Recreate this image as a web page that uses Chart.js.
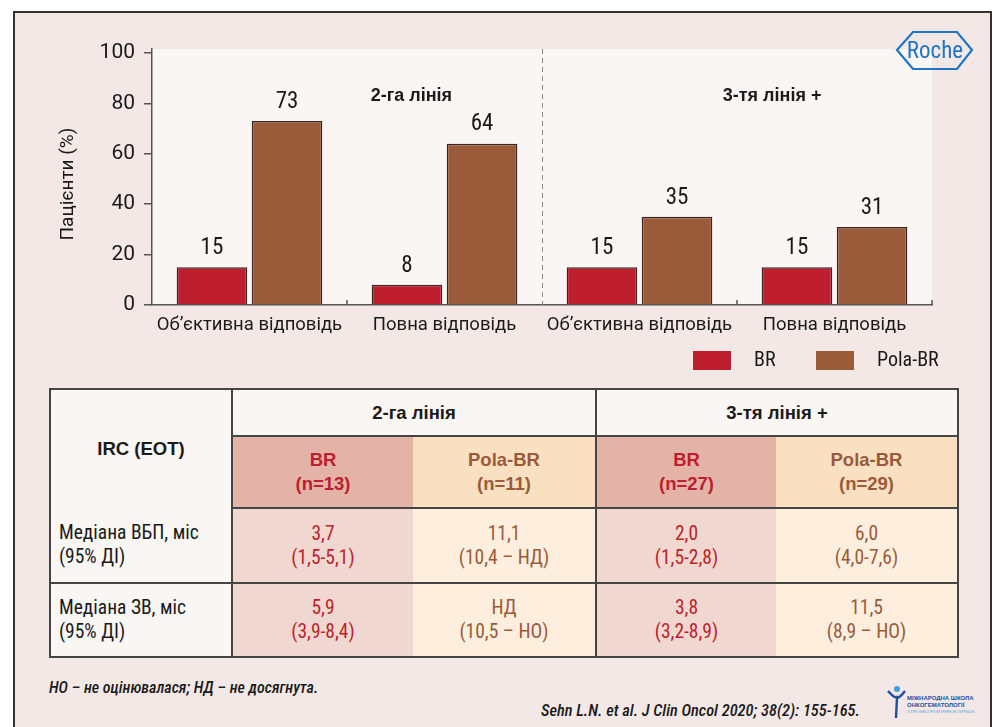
<!DOCTYPE html>
<html>
<head>
<meta charset="utf-8">
<script src="https://cdn.jsdelivr.net/npm/chart.js@4.4.1/dist/chart.umd.min.js"></script>
<style>
  body { margin: 0; width: 999px; height: 727px; overflow: hidden; position: relative; background: #fff;
         font-family: Roboto, sans-serif; font-stretch: condensed; }
  #frame { position: absolute; left: 13px; top: 11px; width: 979px; height: 740px; box-sizing: border-box;
           border: 2px solid #333; background: #f3e8e6; }
  #chartBox { position: absolute; left: 14px; top: 12px; width: 977px; height: 375px; }
  #roche { position: absolute; left: 895px; top: 30px; }
  #tbl { position: absolute; left: 49px; top: 388px; width: 908px; height: 268px; border-collapse: collapse;
         table-layout: fixed; border: 2px solid #444; color: #1a1a1a; }
  #tbl td, #tbl th { padding: 0; text-align: center; vertical-align: middle; font-size: 19.5px; line-height: 24px; }
  #tbl th { font-family: "Liberation Sans", Arial, sans-serif; font-stretch: normal; font-weight: bold; font-size: 18.5px; line-height: 24px; }
  .light { background: #faf6f3; }
  .hBR { background: #e3b3a7; color: #be1e2d; }
  .hPola { background: #f9e0c0; color: #9a5b3b; }
  .dBR { background: #f0d7d0; color: #be1e2d; }
  .dPola { background: #fdeede; color: #9a5b3b; }
  .rowLabel { text-align: left !important; padding-left: 8px !important; }
  .note { position: absolute; font-style: italic; font-weight: 500; color: #1a1a1a; white-space: nowrap; }
  #mark { position: absolute; left: 885px; top: 685px; }
</style>
</head>
<body>
<div id="frame"></div>
<div id="chartBox"><canvas id="respChart" width="977" height="375"></canvas></div>
<svg id="roche" width="80" height="44" viewBox="0 0 80 44">
  <polygon points="2,20 18,2 62,2 77,20 62,39 18,39" fill="none" stroke="#1f74c4" stroke-width="2.2"/>
  <text x="40" y="28" text-anchor="middle" font-family="Roboto, sans-serif" font-stretch="condensed"
        font-size="23" fill="#1f74c4">Roche</text>
</svg>
<table id="tbl"></table>
<div class="note" style="left:49px; top:678px; font-size:16px;">НО – не оцінювалася; НД – не досягнута.</div>
<div class="note" style="right:139px; top:701px; font-size:16.4px;">Sehn L.N. et al. J Clin Oncol 2020; 38(2): 155-165.</div>
<svg id="mark" width="90" height="36" viewBox="0 0 90 36">
  <circle cx="12" cy="4" r="3" fill="#3aa3e0"/>
  <path d="M3,6 Q10,14 12,12 Q14,14 20,6 M12,12 L11,33" stroke="#1f4ea3" stroke-width="2.4" fill="none"/>
  <text x="22" y="15" font-family="Liberation Sans, sans-serif" font-size="6" font-weight="bold" fill="#1f4ea3">МІЖНАРОДНА ШКОЛА</text>
  <text x="22" y="22" font-family="Liberation Sans, sans-serif" font-size="6" font-weight="bold" fill="#1f4ea3">ОНКОГЕМАТОЛОГІЇ</text>
  <text x="22" y="28" font-family="Liberation Sans, sans-serif" font-size="4" fill="#3aa3e0">З ПРОФЕСОРОМ ІРИНОЮ КРЯЧОК</text>
</svg>
<script>
// chart data
const categories = ["Об’єктивна відповідь", "Повна відповідь", "Об’єктивна відповідь", "Повна відповідь"];
const seriesNames = ["BR", "Pola-BR"];
const brValues = [15, 8, 15, 15];
const polaValues = [73, 64, 35, 31];
const yTicks = [0, 20, 40, 60, 80, 100];
const panelTitles = ["2-га лінія", "3-тя лінія +"];

// table data
const tableGroups = ["2-га лінія", "3-тя лінія +"];
const tableArms = ["BR", "Pola-BR", "BR", "Pola-BR"];
const tableN = ["(n=13)", "(n=11)", "(n=27)", "(n=29)"];
const rowLabels = [["Медіана ВБП, міс", "(95% ДІ)"], ["Медіана ЗВ, міс", "(95% ДІ)"]];
const pfsMedian = ["3,7", "11,1", "2,0", "6,0"];
const pfsCI = ["(1,5-5,1)", "(10,4 – НД)", "(1,5-2,8)", "(4,0-7,6)"];
const osMedian = ["5,9", "НД", "3,8", "11,5"];
const osCI = ["(3,9-8,4)", "(10,5 – НО)", "(3,2-8,9)", "(8,9 – НО)"];

const brColor = "#be1e2d";
const polaColor = "#9a5b3b";
const cond = "condensed";

// ---- table ----
function buildTable() {
    const B = "2px solid #444";
    let html = '<colgroup><col style="width:182px"><col style="width:181px"><col style="width:183px"><col style="width:180px"><col style="width:182px"></colgroup>';
    html += '<tr style="height:47px"><th rowspan="2" class="light" style="border-right:' + B + '">IRC (EOT)</th>';
    tableGroups.forEach((g, i) => {
        html += '<th colspan="2" class="light" style="border-bottom:' + B + (i === 0 ? ';border-right:' + B : '') + '">' + g + '</th>';
    });
    html += '</tr><tr style="height:72px">';
    tableArms.forEach((arm, i) => {
        const cls = arm === "BR" ? "hBR" : "hPola";
        html += '<th class="' + cls + '" style="border-bottom:' + B + (i === 1 ? ';border-right:' + B : '') + '">' + arm + '<br>' + tableN[i] + '</th>';
    });
    html += '</tr>';
    const rows = [[pfsMedian, pfsCI], [osMedian, osCI]];
    rows.forEach((r, ri) => {
        html += '<tr style="height:' + (ri === 0 ? 75 : 74) + 'px' + '">';
        html += '<td class="light rowLabel" style="border-right:' + B + (ri === 0 ? ';border-bottom:' + B : '') + '">' + rowLabels[ri][0] + '<br>' + rowLabels[ri][1] + '</td>';
        tableArms.forEach((arm, i) => {
            const cls = arm === "BR" ? "dBR" : "dPola";
            html += '<td class="' + cls + '" style="' + (ri === 0 ? 'border-bottom:' + B + ';' : '') + (i === 1 ? 'border-right:' + B : '') + '">' + r[0][i] + '<br>' + r[1][i] + '</td>';
        });
        html += '</tr>';
    });
    document.getElementById("tbl").innerHTML = html;
}
buildTable();

// ---- chart decorations ----
const decorPlugin = {
    id: "decor",
    beforeDraw(chart) {
        const { ctx, chartArea } = chart;
        ctx.save();
        ctx.fillStyle = "#faf6f4";
        ctx.fillRect(chartArea.left, chartArea.top, chartArea.right - chartArea.left, chartArea.bottom - chartArea.top);
        ctx.restore();
    },
    afterDatasetsDraw(chart) {
        const { ctx, chartArea, scales } = chart;
        const x = scales.x, y = scales.y;
        ctx.save();

        // dashed separator between panels
        const sepX = Math.round(x.getPixelForValue(1.5)) + 0.5;
        ctx.strokeStyle = "#8a8a8a";
        ctx.lineWidth = 1;
        ctx.setLineDash([5, 4]);
        ctx.beginPath();
        ctx.moveTo(sepX, chartArea.top);
        ctx.lineTo(sepX, chartArea.bottom);
        ctx.stroke();
        ctx.setLineDash([]);

        // small inward ticks at category boundaries
        ctx.strokeStyle = "#555";
        ctx.lineWidth = 1.5;
        [0.5, 2.5, 3.5].forEach(v => {
            const px = x.getPixelForValue(v);
            ctx.beginPath();
            ctx.moveTo(px, chartArea.bottom);
            ctx.lineTo(px, chartArea.bottom - 5);
            ctx.stroke();
        });

        // value labels
        ctx.fillStyle = "#1a1a1a";
        ctx.font = cond + " 23px Roboto, sans-serif";
        ctx.textAlign = "center";
        ctx.textBaseline = "middle";
        chart.data.datasets.forEach((ds, di) => {
            chart.getDatasetMeta(di).data.forEach((bar, i) => {
                ctx.fillText(String(ds.data[i]), bar.x, bar.y - 19);
            });
        });

        // panel titles
        ctx.font = "bold 18px 'Liberation Sans', Arial, sans-serif";
        const titlePos = [0.83, 2.68];
        panelTitles.forEach((t, i) => {
            ctx.fillText(t, x.getPixelForValue(titlePos[i]), y.getPixelForValue(83));
        });

        // legend
        const lx = [chartArea.right - 239, chartArea.right - 116];
        const ly = chartArea.bottom + 46;
        ctx.font = cond + " 20px Roboto, sans-serif";
        ctx.textAlign = "left";
        chart.data.datasets.forEach((ds, i) => {
            ctx.fillStyle = ds.backgroundColor;
            ctx.fillRect(lx[i], ly, 38, 19);
            ctx.fillStyle = "#1a1a1a";
            ctx.fillText(ds.label, lx[i] + 61, ly + 10);
        });
        ctx.restore();
    }
};

const ctx = document.getElementById("respChart").getContext("2d");
new Chart(ctx, {
    type: "bar",
    data: {
        labels: categories,
        datasets: [{
            label: seriesNames[0],
            data: brValues,
            backgroundColor: brColor,
            borderColor: "#3a2424",
            borderWidth: 1.5,
            categoryPercentage: 0.77,
            barPercentage: 0.94
        }, {
            label: seriesNames[1],
            data: polaValues,
            backgroundColor: polaColor,
            borderColor: "#3a2424",
            borderWidth: 1.5,
            categoryPercentage: 0.77,
            barPercentage: 0.94
        }]
    },
    options: {
        responsive: false,
        animation: false,
        devicePixelRatio: 1,
        layout: { padding: { left: 39, top: 37, right: 59, bottom: 42 } },
        plugins: {
            legend: { display: false },
            tooltip: { enabled: false }
        },
        scales: {
            x: {
                grid: { display: false, drawTicks: false },
                border: { color: "#555", width: 1.5 },
                ticks: { color: "#1a1a1a", font: { family: "Roboto, sans-serif", style: cond, size: 18.5 },
                         padding: 9, autoSkip: false, maxRotation: 0, minRotation: 0 },
                afterFit: s => { s.height = 40; }
            },
            y: {
                min: 0,
                max: 101.6,
                afterBuildTicks: s => { s.ticks = yTicks.map(v => ({ value: v })); },
                grid: { drawOnChartArea: false, tickLength: 8, color: "#555", lineWidth: 1.5 },
                border: { color: "#555", width: 1.5 },
                ticks: { color: "#1a1a1a", font: { family: "Roboto, sans-serif", style: cond, size: 21 }, padding: 9 },
                title: { display: true, text: "Пацієнти (%)   ", color: "#1a1a1a",
                         font: { family: "Roboto, sans-serif", style: cond, size: 19 } },
                afterFit: s => { s.width = 99; }
            }
        }
    },
    plugins: [decorPlugin]
});
</script>
</body>
</html>
